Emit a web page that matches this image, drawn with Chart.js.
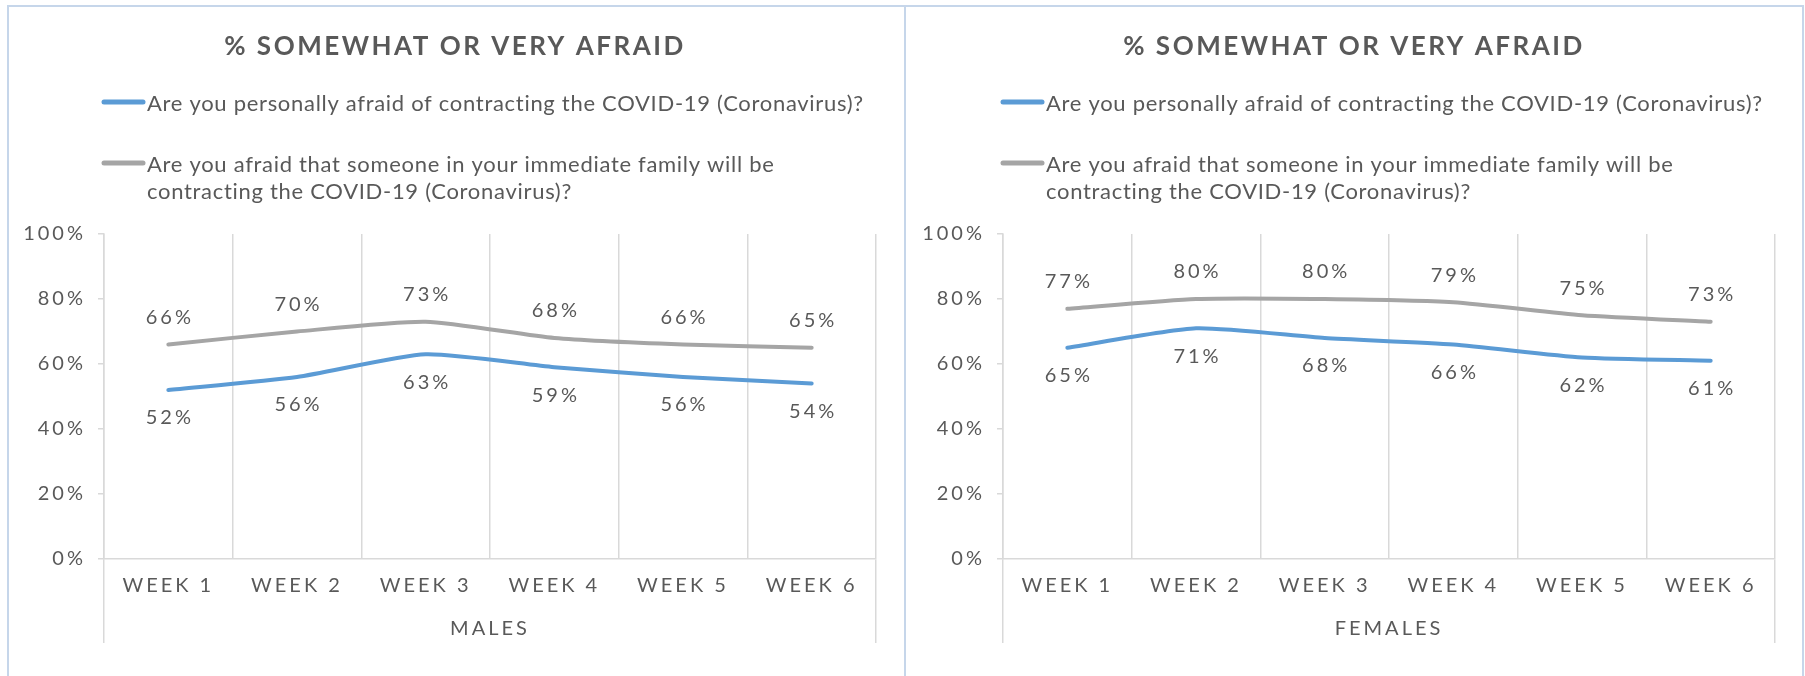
<!DOCTYPE html>
<html>
<head>
<meta charset="utf-8">
<script src="https://cdn.jsdelivr.net/npm/chart.js@4.4.1/dist/chart.umd.min.js"></script>
<style>
  html, body { margin: 0; padding: 0; background: #fff; width: 1805px; height: 676px; overflow: hidden; }
  .panel { position: absolute; top: 5px; height: 700px; box-sizing: border-box; border: 2px solid #C6D6EA; }
  #p1 { left: 7px; width: 899px; }
  #p2 { left: 906px; width: 898px; border-left: none; }
  canvas { position: absolute; top: 8px; }
  #males { left: 10px; }
  #females { left: 909px; }
</style>
</head>
<body>
<div class="panel" id="p1"></div>
<div class="panel" id="p2"></div>
<canvas id="males" width="894" height="668"></canvas>
<canvas id="females" width="894" height="668"></canvas>
<script>
var weeks = ['WEEK 1', 'WEEK 2', 'WEEK 3', 'WEEK 4', 'WEEK 5', 'WEEK 6'];
var yTickValues = [0, 20, 40, 60, 80, 100];
var seriesNames = [
  'Are you personally afraid of contracting the COVID-19 (Coronavirus)?',
  'Are you afraid that someone in your immediate family will be contracting the COVID-19 (Coronavirus)?'
];
var chartTitle = '% SOMEWHAT OR VERY AFRAID';

var malesPersonal = [52, 56, 63, 59, 56, 54];
var malesFamily = [66, 70, 73, 68, 66, 65];
var femalesPersonal = [65, 71, 68, 66, 62, 61];
var femalesFamily = [77, 80, 80, 79, 75, 73];

var textGrey = '#595959';
var gridGrey = '#D9D9D9';

// Century Gothic is wide, so space the letters out a bit
var spacing = {
  id: 'spacing',
  beforeLayout: function (chart) { chart.ctx.letterSpacing = '3px'; },
  beforeDraw: function (chart) { chart.ctx.letterSpacing = '3px'; }
};

// title + legend (second item wraps on two lines)
var header = {
  id: 'header',
  afterDraw: function (chart) {
    var ctx = chart.ctx;
    ctx.save();
    ctx.fillStyle = textGrey;
    ctx.textBaseline = 'middle';
    ctx.letterSpacing = '2.5px';
    ctx.font = 'bold 26px Lato';
    ctx.textAlign = 'center';
    ctx.fillText(chartTitle, chart.width / 2 - 2, 39);

    ctx.letterSpacing = '0.7px';
    ctx.font = '22px Lato';
    ctx.textAlign = 'left';
    var rows = [94, 155];
    chart.data.datasets.forEach(function (ds, i) {
      var y = rows[i];
      ctx.strokeStyle = ds.borderColor;
      ctx.lineWidth = 5;
      ctx.lineCap = 'round';
      ctx.beginPath();
      ctx.moveTo(94, y);
      ctx.lineTo(133, y);
      ctx.stroke();
      var words = ds.label.split(' ');
      var line = '';
      var ly = y + 2;
      words.forEach(function (w) {
        var test = line ? line + ' ' + w : w;
        if (line && ctx.measureText(test).width > 735) {
          ctx.fillText(line, 137, ly);
          line = w;
          ly += 27;
        } else {
          line = test;
        }
      });
      ctx.fillText(line, 137, ly);
    });
    ctx.restore();
  }
};

var valueLabels = {
  id: 'valueLabels',
  afterDatasetsDraw: function (chart) {
    var ctx = chart.ctx;
    ctx.save();
    ctx.font = '20px Lato';
    ctx.fillStyle = textGrey;
    ctx.textAlign = 'center';
    ctx.textBaseline = 'middle';
    ctx.letterSpacing = '3px';
    chart.data.datasets.forEach(function (ds, i) {
      var shift = ds.labelSide === 'above' ? -27 : 28;
      chart.getDatasetMeta(i).data.forEach(function (pt, j) {
        ctx.fillText(ds.data[j] + '%', pt.x + 1.5, pt.y + shift);
      });
    });
    ctx.restore();
  }
};

function makeChart(id, personal, family, group) {
  var ctx = document.getElementById(id).getContext('2d');
  return new Chart(ctx, {
    type: 'line',
    data: {
      labels: weeks,
      datasets: [{
        label: seriesNames[0],
        data: personal,
        borderColor: '#5B9BD5',
        labelSide: 'below'
      }, {
        label: seriesNames[1],
        data: family,
        borderColor: '#A5A5A5',
        labelSide: 'above'
      }]
    },
    options: {
      responsive: false,
      animation: false,
      layout: { padding: { top: 226, right: 28, left: 0, bottom: 0 } },
      plugins: {
        legend: { display: false },
        title: { display: false },
        tooltip: { enabled: false }
      },
      elements: {
        point: { radius: 0 },
        line: { tension: 0.2, borderWidth: 4, borderCapStyle: 'round', borderJoinStyle: 'round' }
      },
      scales: {
        x: {
          offset: true,
          grid: {
            offset: true,
            color: gridGrey,
            lineWidth: 1.5,
            tickLength: 84,
            // only the two outer lines run down past the group label
            tickColor: function (c) {
              return (c.index === 0 || c.index === undefined) ? gridGrey : 'rgba(0,0,0,0)';
            }
          },
          border: { color: gridGrey, width: 1.5 },
          ticks: { padding: -69, color: textGrey, font: { family: 'Lato', size: 20 }, maxRotation: 0, autoSkip: false },
          title: {
            display: true,
            text: group,
            color: textGrey,
            font: { family: 'Lato', size: 20 },
            padding: { top: 0, bottom: 35 }
          },
          afterFit: function (s) { s.height = 117; }
        },
        y: {
          min: yTickValues[0],
          max: yTickValues[yTickValues.length - 1],
          afterBuildTicks: function (s) {
            s.ticks = yTickValues.map(function (v) { return { value: v }; });
          },
          ticks: {
            padding: 12,
            color: textGrey,
            font: { family: 'Lato', size: 20 },
            callback: function (v) { return v + '%'; }
          },
          grid: { drawOnChartArea: false, tickLength: 6, color: gridGrey, lineWidth: 1.5 },
          border: { color: gridGrey, width: 1.5 },
          afterFit: function (s) { s.width = 94; }
        }
      }
    },
    plugins: [spacing, header, valueLabels]
  });
}

makeChart('males', malesPersonal, malesFamily, 'MALES');
makeChart('females', femalesPersonal, femalesFamily, 'FEMALES');
</script>
</body>
</html>
